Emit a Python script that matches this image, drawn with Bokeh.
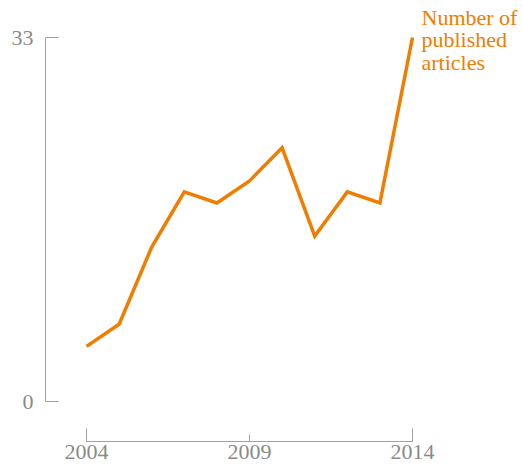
from bokeh.plotting import figure
from bokeh.models import FixedTicker, Range1d, Label
from bokeh.embed import file_html
from bokeh.resources import INLINE

years = [2004, 2005, 2006, 2007, 2008, 2009, 2010, 2011, 2012, 2013, 2014]
articles = [5, 7, 14, 19, 18, 20, 23, 15, 19, 18, 33]
x_ticks = [2004, 2009, 2014]
y_ticks = [0, 33]
series_name = "Number of\npublished\narticles"

ORANGE = "#F07D00"
GRAY_TXT = "#8a8a8a"
GRAY_LINE = "#a0a0a0"
FONT = "'Liberation Serif', serif"

px_per_year = 32.6
px_per_unit = 364 / 33.0

p = figure(frame_width=478, frame_height=441, min_border_left=45, min_border_right=0,
           min_border_top=0, min_border_bottom=0,
           output_backend="svg", toolbar_location=None,
           x_range=Range1d(2004 - 41 / px_per_year, 2014 + 111 / px_per_year),
           y_range=Range1d(0 - 40 / px_per_unit, 33 + 37 / px_per_unit))

p.line(years, articles, line_color=ORANGE, line_width=3.5, line_join="miter")

p.outline_line_color = None
p.grid.visible = False
p.background_fill_color = "white"
p.border_fill_color = "white"

xa = p.xaxis[0]
xa.ticker = FixedTicker(ticks=x_ticks, minor_ticks=[x_ticks[0], x_ticks[-1]])
xa.bounds = (x_ticks[0], x_ticks[-1])
xa.major_tick_in = 7
xa.major_tick_out = 0
xa.minor_tick_in = 13
xa.minor_tick_out = 0
xa.major_label_standoff = 3

ya = p.yaxis[0]
ya.ticker = FixedTicker(ticks=y_ticks)
ya.bounds = (y_ticks[0], y_ticks[-1])
ya.major_tick_in = 13
ya.major_tick_out = 0
ya.minor_tick_in = 0
ya.minor_tick_out = 0
ya.major_label_standoff = 12

for ax in (xa, ya):
    ax.axis_line_color = GRAY_LINE
    ax.major_tick_line_color = GRAY_LINE
    ax.minor_tick_line_color = GRAY_LINE
    ax.major_label_text_font = FONT
    ax.major_label_text_font_size = "22px"
    ax.major_label_text_color = GRAY_TXT

lab = Label(x=years[-1], y=articles[-1], text=series_name, x_offset=9, y_offset=33,
            text_align="left", text_baseline="top", text_font=FONT,
            text_font_size="22px", text_color=ORANGE, text_line_height=0.9)
p.add_layout(lab)

open("out.html", "w").write(file_html(p, INLINE))
